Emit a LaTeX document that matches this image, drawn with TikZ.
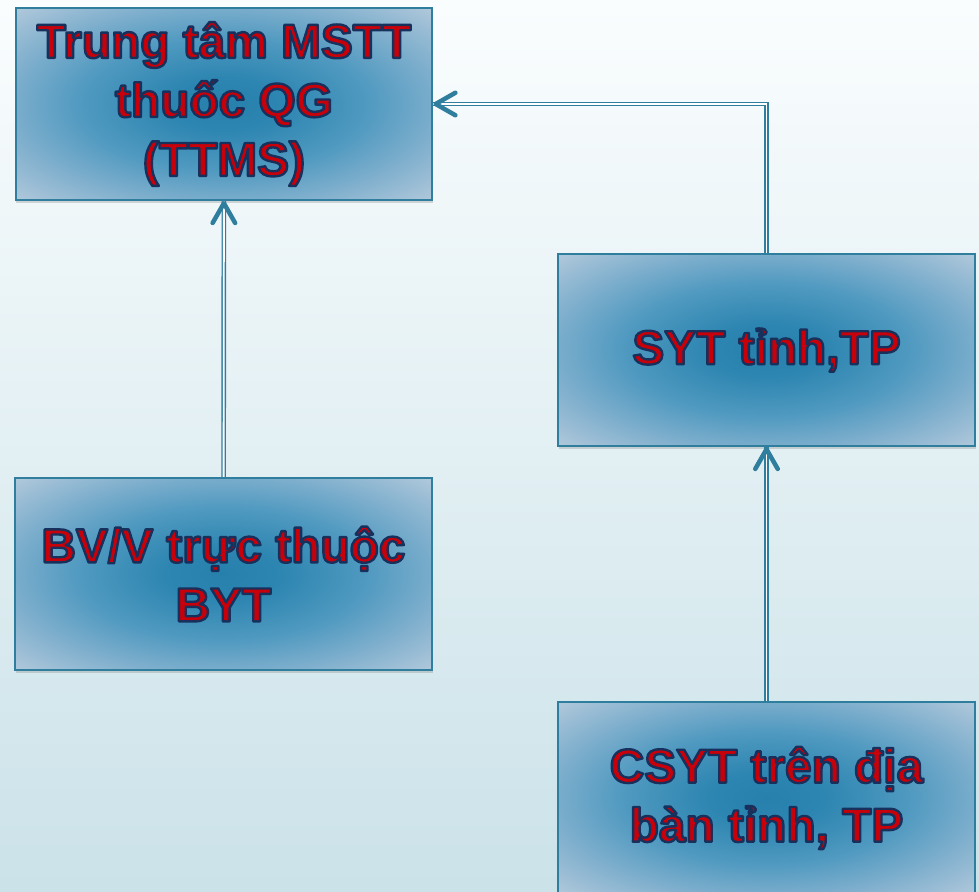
\documentclass[tikz,border=0pt]{standalone}
\usepackage{fontspec}
\setmainfont{Liberation Sans}
\usetikzlibrary{arrows.meta,decorations.markings,shadows}

\definecolor{bgtop}{HTML}{FAFDFE}
\definecolor{bgmid}{HTML}{EEF6F9}
\definecolor{bgbot}{HTML}{CBE2E9}
\definecolor{bxa}{HTML}{2680AB}
\definecolor{bxb}{HTML}{2D86B1}
\definecolor{bxc}{HTML}{4F99C0}
\definecolor{bxd}{HTML}{7FAFCD}
\definecolor{bxe}{HTML}{B4CADC}
\definecolor{linecol}{HTML}{2F7E9E}
\definecolor{txtred}{HTML}{C8000A}

% red letters with a dark blue rim
\newcommand{\outl}[1]{\special{pdf:literal direct 0.09 0.19 0.36 RG 1.7 w 1 j 2 Tr}#1\special{pdf:literal direct 0 Tr}}

\pgfdeclareradialshading{boxshade}{\pgfpoint{0bp}{0bp}}{color(0bp)=(bxa); color(7bp)=(bxb); color(17bp)=(bxc); color(26bp)=(bxd); color(36bp)=(bxe); color(50bp)=(bxe)}

\tikzset{
  unit/.style={rectangle, draw=linecol, line width=1.4pt, shading=boxshade,
    minimum width=10.42cm, minimum height=4.8cm, align=center, text=txtred,
    font=\fontsize{34}{42}\selectfont\bfseries,
    drop shadow={shadow xshift=0.6pt, shadow yshift=-2.2pt, opacity=0.3}},
  link/.style={draw=linecol, line width=1pt, double=white, double distance=1.3pt,
    postaction={decorate}, decoration={markings, mark=at position 1 with
      {\arrow{Straight Barb[length=14pt, width=16pt, line width=3.2pt, round, color=linecol]}}}}
}

\begin{document}
\begin{tikzpicture}[x=0.025cm, y=-0.025cm]
  % background
  \clip (0,0) rectangle (979,892);
  \shade[top color=bgtop, middle color=bgmid, bottom color=bgbot] (0,0) rectangle (979,892);

  \node[unit] (ttms) at (224,104) {\outl{Trung tâm MSTT}\\\outl{thuốc QG}\\\outl{(TTMS)}};
  \node[unit] (syt) at (766.5,350) {\outl{SYT tỉnh,TP}};
  \node[unit] (bv) at (223.5,574) {\outl{BV/V trực thuộc}\\\outl{BYT}};
  \node[unit] (csyt) at (766.5,798) {\outl{CSYT trên địa}\\\outl{bàn tỉnh, TP}};

  % reporting lines
  \path (bv) edge[link] (ttms);
  \draw[link] (syt.north) |- (ttms.east);
  \path (csyt) edge[link] (syt);
\end{tikzpicture}
\end{document}
